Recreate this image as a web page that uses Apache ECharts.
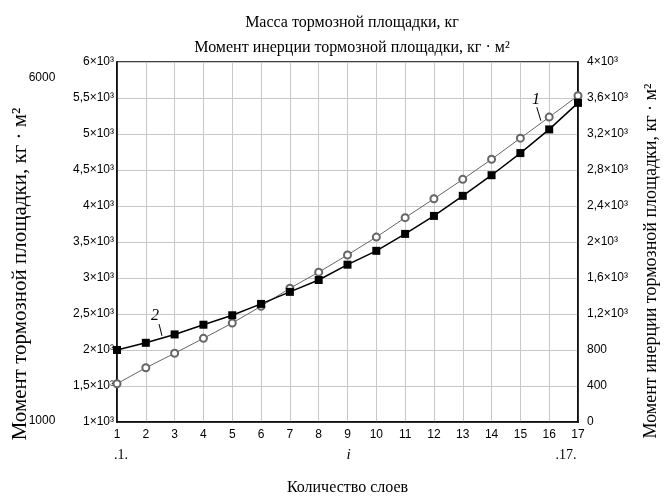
<!DOCTYPE html>
<html>
<head>
<meta charset="utf-8">
<script src="https://cdn.jsdelivr.net/npm/echarts@6/dist/echarts.min.js"></script>
<style>html,body{margin:0;padding:0;background:#fff}#c{width:666px;height:501px}</style>
</head>
<body>
<div id="c"></div>
<script>
const layers = [1,2,3,4,5,6,7,8,9,10,11,12,13,14,15,16,17];
// curve 1 (open circles), left axis
const massValues = [1532,1753,1955,2162,2374,2608,2857,3081,3320,3568,3838,4100,4370,4649,4942,5235,5532];
// curve 2 (filled squares), right axis
const inertiaValues = [800,880,973,1081,1186,1312,1446,1578,1748,1902,2090,2290,2513,2742,2988,3251,3546];
const leftTickLabels = ['1×10³','1,5×10³','2×10³','2,5×10³','3×10³','3,5×10³','4×10³','4,5×10³','5×10³','5,5×10³','6×10³'];
const rightTickLabels = ['0','400','800','1,2×10³','1,6×10³','2×10³','2,4×10³','2,8×10³','3,2×10³','3,6×10³','4×10³'];

const SERIF = '"Liberation Serif", "Times New Roman", serif';
const SANS = '"Liberation Sans", Arial, sans-serif';

const chart = echarts.init(document.getElementById('c'), null, {renderer: 'canvas'});
const option = {
  animation: false,
  backgroundColor: '#fff',
  title: {
    text: 'Масса тормозной площадки, кг\nМомент инерции тормозной площадки, кг · м²',
    left: 347, top: 5, textAlign: 'center',
    textStyle: {fontFamily: SERIF, fontSize: 16, fontWeight: 'normal', color: '#000', lineHeight: 25}
  },
  grid: {left: 117, right: 88, top: 62, bottom: 69, show: true, borderColor: '#000', borderWidth: 1.5, backgroundColor: 'transparent'},
  xAxis: {
    type: 'value', min: 1, max: 17, interval: 1,
    name: 'Количество слоев', nameLocation: 'middle', nameGap: 58,
    nameTextStyle: {fontFamily: SERIF, fontSize: 16, color: '#000'},
    axisLine: {show: true, lineStyle: {color: '#000', width: 1.5}},
    axisTick: {show: false},
    axisLabel: {fontFamily: SANS, fontSize: 12, color: '#000', margin: 7},
    splitLine: {show: true, lineStyle: {color: '#c8c8c8', width: 1}}
  },
  yAxis: [{
    type: 'value', min: 1000, max: 6000, interval: 500,
    axisLine: {show: true, lineStyle: {color: '#000', width: 1.5}},
    axisTick: {show: false},
    axisLabel: {fontFamily: SANS, fontSize: 12, color: '#000', margin: 3,
      formatter: v => leftTickLabels[Math.round((v - 1000) / 500)]},
    splitLine: {show: true, lineStyle: {color: '#c8c8c8', width: 1}}
  }, {
    type: 'value', min: 0, max: 4000, interval: 400, position: 'right',
    axisLine: {show: true, lineStyle: {color: '#000', width: 1.5}},
    axisTick: {show: false},
    axisLabel: {fontFamily: SANS, fontSize: 12, color: '#000', margin: 9,
      formatter: v => rightTickLabels[Math.round(v / 400)]},
    splitLine: {show: false}
  }],
  series: [{
    name: '1', type: 'line', yAxisIndex: 0,
    data: layers.map((x, i) => [x, massValues[i]]),
    symbol: 'emptyCircle', symbolSize: 7,
    lineStyle: {color: '#666', width: 1},
    itemStyle: {color: '#666', borderWidth: 1},
    z: 3
  }, {
    name: '2', type: 'line', yAxisIndex: 1,
    data: layers.map((x, i) => [x, inertiaValues[i]]),
    symbol: 'rect', symbolSize: 8,
    lineStyle: {color: '#000', width: 1.5},
    itemStyle: {color: '#000'},
    z: 4
  }]
};
chart.setOption(option);

function px(x, y) { return chart.convertToPixel({xAxisIndex: 0, yAxisIndex: 0}, [x, y]); }
const l1 = px(15.54, 5469), l1a = px(15.57, 5373), l1b = px(15.71, 5185);
const l2 = px(2.32, 2469), l2a = px(2.46, 2360), l2b = px(2.56, 2197);
const pFirst = px(1, 1000), pLast = px(17, 1000), pMid = px(9, 1000);

chart.setOption({
  graphic: [
    {type: 'text', x: l1[0], y: l1[1], style: {text: '1', font: 'italic 16px ' + SERIF, fill: '#000', textAlign: 'center', textVerticalAlign: 'middle'}},
    {type: 'line', shape: {x1: l1a[0], y1: l1a[1], x2: l1b[0], y2: l1b[1]}, style: {stroke: '#000', lineWidth: 1}},
    {type: 'text', x: l2[0], y: l2[1], style: {text: '2', font: 'italic 16px ' + SERIF, fill: '#000', textAlign: 'center', textVerticalAlign: 'middle'}},
    {type: 'line', shape: {x1: l2a[0], y1: l2a[1], x2: l2b[0], y2: l2b[1]}, style: {stroke: '#000', lineWidth: 1}},
    {type: 'text', x: pFirst[0] + 4, y: pFirst[1] + 33, style: {text: '.1.', font: '14px ' + SERIF, fill: '#000', textAlign: 'center', textVerticalAlign: 'middle'}},
    {type: 'text', x: pMid[0] + 1, y: pMid[1] + 33, style: {text: 'i', font: 'italic 15px ' + SERIF, fill: '#000', textAlign: 'center', textVerticalAlign: 'middle'}},
    {type: 'text', x: pLast[0] - 12, y: pLast[1] + 33, style: {text: '.17.', font: '14px ' + SERIF, fill: '#000', textAlign: 'center', textVerticalAlign: 'middle'}},
    {type: 'text', x: 42, y: 78, style: {text: '6000', font: '12px ' + SANS, fill: '#000', textAlign: 'center', textVerticalAlign: 'middle'}},
    {type: 'text', x: 42, y: 421, style: {text: '1000', font: '12px ' + SANS, fill: '#000', textAlign: 'center', textVerticalAlign: 'middle'}},
    {type: 'text', x: 20, y: 274, rotation: Math.PI / 2, style: {text: 'Момент тормозной площадки, кг · м²', font: '21px ' + SERIF, fill: '#000', textAlign: 'center', textVerticalAlign: 'middle'}},
    {type: 'text', x: 651, y: 261, rotation: Math.PI / 2, style: {text: 'Момент инерции тормозной площадки, кг · м²', font: '18px ' + SERIF, fill: '#000', textAlign: 'center', textVerticalAlign: 'middle'}}
  ]
});
</script>
</body>
</html>
